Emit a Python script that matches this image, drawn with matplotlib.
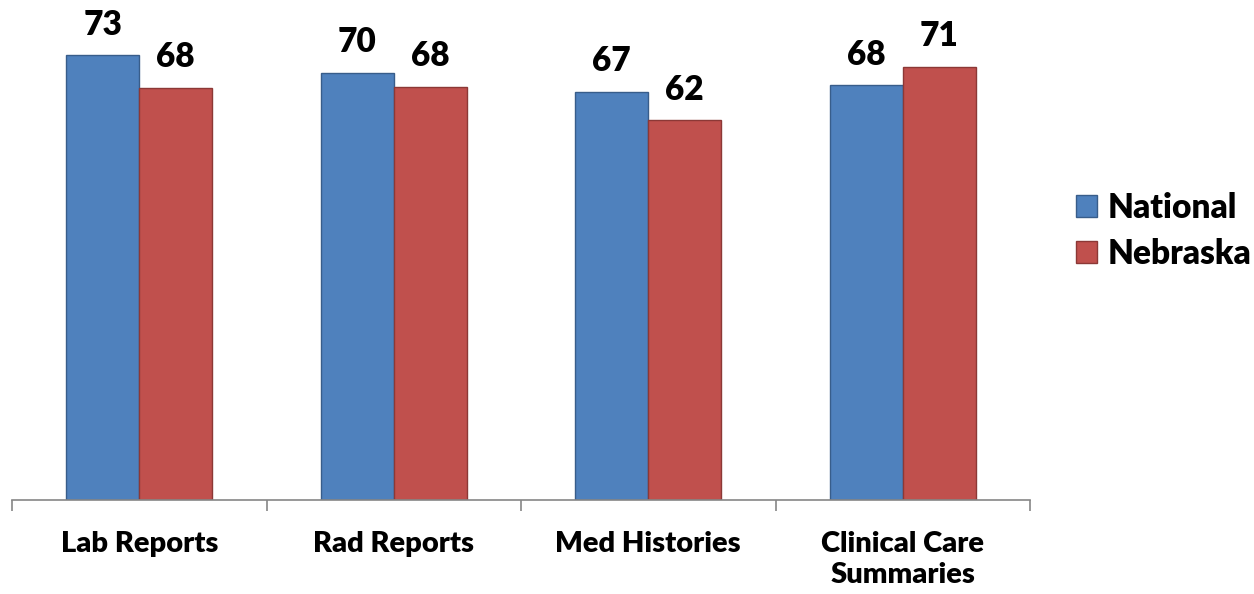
import matplotlib.pyplot as plt
import numpy as np

plt.rcParams['font.family'] = ['Lato', 'DejaVu Sans']
plt.rcParams['font.weight'] = 'heavy'

# Data
categories = ["Lab Reports", "Rad Reports", "Med Histories", "Clinical Care\nSummaries"]
national = [72.9, 70.1, 66.9, 68.0]
nebraska = [67.6, 67.8, 62.3, 71.0]
series_names = ["National", "Nebraska"]

fig = plt.figure(figsize=(12.54, 5.94), dpi=100)
ax = fig.add_axes([12 / 1254, 94 / 594, (1030 - 12) / 1254, 500 / 594])

x = np.arange(len(categories))
w = 0.287
b1 = ax.bar(x - w / 2, national, w, color="#4F81BD", edgecolor="#385D8A", linewidth=1, label=series_names[0])
b2 = ax.bar(x + w / 2, nebraska, w, color="#C0504D", edgecolor="#8C3836", linewidth=1, label=series_names[1])

for bars, vals in ((b1, national), (b2, nebraska)):
    for bar, v in zip(bars, vals):
        ax.annotate(f"{v:.0f}", (bar.get_x() + bar.get_width() / 2, v),
                    xytext=(0, 10.5), textcoords="offset points",
                    ha="center", va="bottom", fontsize=24, fontweight="heavy")

ax.set_xlim(-0.5, len(categories) - 0.5)
ax.set_ylim(0, 82)

# tick marks at group boundaries, labels at group centers
ax.set_xticks(np.arange(-0.5, len(categories), 1.0))
ax.set_xticklabels([])
ax.tick_params(axis="x", which="major", length=8, width=1.2, color="#868686")
ax.set_xticks(x, minor=True)
ax.set_xticklabels(categories, minor=True, fontsize=21, fontweight="heavy", linespacing=1.28)
ax.tick_params(axis="x", which="minor", length=0, pad=22)

ax.set_yticks([])
for s in ("left", "right", "top"):
    ax.spines[s].set_visible(False)
ax.spines["bottom"].set_color("#868686")
ax.spines["bottom"].set_linewidth(1.2)

leg = fig.legend(loc="center left", bbox_to_anchor=(1076 / 1254, 1 - 231 / 594),
                 frameon=False, prop={"weight": "heavy", "size": 24},
                 handlelength=0.63, handleheight=0.63, handletextpad=0.33,
                 labelspacing=0.42, borderpad=0, borderaxespad=0)

plt.savefig("out.png", dpi=100)
